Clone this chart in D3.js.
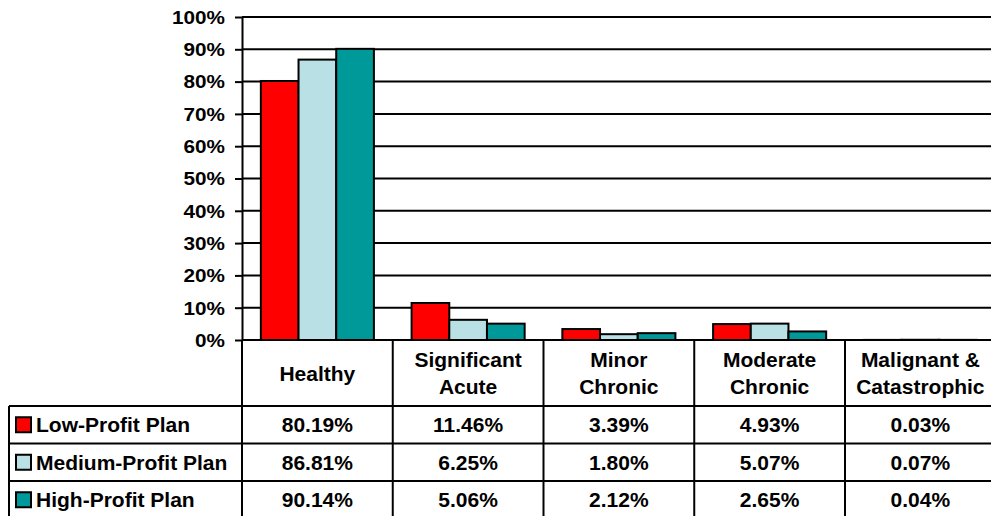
<!DOCTYPE html>
<html>
<head>
<meta charset="utf-8">
<script src="https://cdn.jsdelivr.net/npm/d3@7"></script>
<style>
  html, body { margin: 0; padding: 0; background: #fff; }
  svg { display: block; }
  text { font-family: "Liberation Sans", Arial, sans-serif; font-weight: bold; fill: #000; }
</style>
</head>
<body>
<svg id="chart" width="991" height="516"></svg>
<script>
// ---- data ----
const categories = [["Healthy"], ["Significant", "Acute"], ["Minor", "Chronic"], ["Moderate", "Chronic"], ["Malignant &", "Catastrophic"]];
const seriesNames = ["Low-Profit Plan", "Medium-Profit Plan", "High-Profit Plan"];
const lowProfit = [0.8019, 0.1146, 0.0339, 0.0493, 0.0003];
const mediumProfit = [0.8681, 0.0625, 0.0180, 0.0507, 0.0007];
const highProfit = [0.9014, 0.0506, 0.0212, 0.0265, 0.0004];
const tickValues = [0, 0.1, 0.2, 0.3, 0.4, 0.5, 0.6, 0.7, 0.8, 0.9, 1.0];
const colors = ["#FF0000", "#B9E0E4", "#009999"];

const seriesValues = [lowProfit, mediumProfit, highProfit];
const catKeys = categories.map((c, i) => i);

// ---- layout ----
const svg = d3.select("#chart");
const plotLeft = 242, plotRight = 995.75, plotTop = 17, plotBottom = 340;
const headerBottom = 406, rowH = 37.5, tableLeft = 9;

const x0 = d3.scaleBand().domain(catKeys).range([plotLeft, plotRight]).padding(0);
const bw = x0.bandwidth();
const x1 = d3.scaleBand().domain(d3.range(seriesNames.length)).range([bw * 0.125, bw * 0.875]).padding(0);
const y = d3.scaleLinear().domain([0, 1]).range([plotBottom, plotTop]);

// gridlines
svg.append("g").selectAll("line").data(tickValues.filter(d => d > 0)).join("line")
  .attr("x1", plotLeft).attr("x2", 991).attr("y1", d => y(d)).attr("y2", d => y(d))
  .attr("stroke", "#000").attr("stroke-width", 2);

// bars
const groups = svg.append("g").selectAll("g").data(catKeys).join("g")
  .attr("transform", d => `translate(${x0(d)},0)`);
groups.selectAll("rect").data(ci => seriesValues.map((s, si) => ({ si, v: s[ci] }))).join("rect")
  .attr("x", d => x1(d.si))
  .attr("width", x1.bandwidth())
  .attr("y", d => y(d.v))
  .attr("height", d => Math.max(0, plotBottom - y(d.v)))
  .attr("fill", d => colors[d.si])
  .attr("stroke", "#000").attr("stroke-width", 2);

// y axis
const yAxis = d3.axisLeft(y).tickValues(tickValues).tickFormat(d3.format(".0%")).tickSizeInner(7).tickSizeOuter(0);
const ax = svg.append("g").attr("transform", `translate(${plotLeft},0)`).call(yAxis);
ax.select(".domain").attr("stroke", "#000").attr("stroke-width", 2);
ax.selectAll(".tick line").attr("stroke", "#000").attr("stroke-width", 2);
ax.selectAll(".tick text")
  .attr("x", null).attr("dy", null)
  .attr("transform", "translate(-17,6.3) scale(1.15,1)")
  .attr("text-anchor", "end")
  .style("font-size", "18px")
  .style("font-family", "'Liberation Sans', Arial, sans-serif")
  .style("font-weight", "bold");

// ---- data table ----
const tableBottom = headerBottom + rowH * seriesNames.length;
const lines = svg.append("g").attr("stroke", "#000").attr("stroke-width", 2);
lines.append("line").attr("x1", plotLeft).attr("x2", 991).attr("y1", plotBottom).attr("y2", plotBottom);
d3.range(seriesNames.length + 1).forEach(i => {
  const yy = headerBottom + i * rowH;
  lines.append("line").attr("x1", tableLeft).attr("x2", 991).attr("y1", yy).attr("y2", yy);
});
lines.append("line").attr("x1", tableLeft).attr("x2", tableLeft).attr("y1", headerBottom).attr("y2", tableBottom);
catKeys.forEach(ci => {
  const xx = x0(ci);
  lines.append("line").attr("x1", xx).attr("x2", xx).attr("y1", plotBottom).attr("y2", tableBottom);
});

// header labels
const hdr = svg.append("g");
catKeys.forEach(ci => {
  const lns = categories[ci];
  const cx = x0(ci) + bw / 2;
  const cy = (plotBottom + headerBottom) / 2;
  const lh = 26.5;
  const t = hdr.append("text").attr("text-anchor", "middle").style("font-size", "21px");
  lns.forEach((l, k) => {
    t.append("tspan").attr("x", cx)
      .attr("y", cy + 7.5 + (k - (lns.length - 1) / 2) * lh)
      .text(l);
  });
});

// rows
const fmt = d3.format(".2%");
seriesNames.forEach((name, si) => {
  const cy = headerBottom + si * rowH + rowH / 2;
  svg.append("rect").attr("x", 16).attr("y", cy - 7.5).attr("width", 15).attr("height", 15)
    .attr("fill", colors[si]).attr("stroke", "#000").attr("stroke-width", 2);
  svg.append("text").attr("x", 36).attr("y", cy + 7.5).style("font-size", "21px").text(name);
  catKeys.forEach(ci => {
    svg.append("text").attr("x", x0(ci) + bw / 2).attr("y", cy + 7.5)
      .attr("text-anchor", "middle").style("font-size", "21px")
      .text(fmt(seriesValues[si][ci]));
  });
});
</script>
</body>
</html>
